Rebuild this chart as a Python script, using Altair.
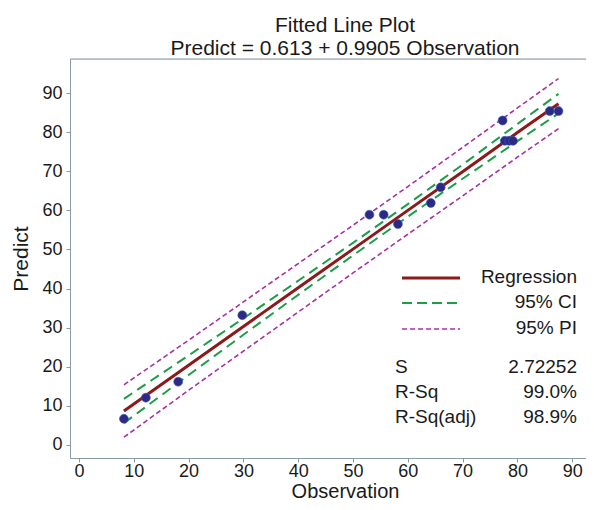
import altair as alt
import pandas as pd

# ---- data ----
obs = [8.2, 12.2, 18.1, 29.8, 53.0, 55.6, 58.2, 64.2, 66.0, 77.3, 77.7, 78.5, 79.2, 85.9, 87.5]
pred = [6.7, 12.1, 16.2, 33.2, 58.9, 58.9, 56.5, 61.9, 65.9, 83.0, 77.8, 77.8, 77.8, 85.4, 85.4]

band_x = [8.2, 20, 30, 40, 50, 60, 70, 80, 87.5]
fit = [8.7, 20.4, 30.3, 40.2, 50.1, 60.0, 69.9, 79.9, 87.3]
ci_up = [11.8, 22.9, 32.4, 42.0, 51.7, 61.6, 71.7, 82.1, 89.8]
ci_lo = [5.6, 17.9, 28.2, 38.4, 48.5, 58.4, 68.1, 77.7, 84.8]
pi_up = [15.4, 26.8, 36.6, 46.4, 56.2, 66.1, 76.1, 86.2, 93.7]
pi_lo = [2.0, 14.0, 24.0, 34.0, 44.0, 53.9, 63.7, 73.6, 80.9]

x_ticks = list(range(0, 100, 10))
y_ticks = list(range(0, 100, 10))

legend_labels = ["Regression", "95% CI", "95% PI"]
stat_names = ["S", "R-Sq", "R-Sq(adj)"]
stat_values = ["2.72252", "99.0%", "98.9%"]

title_lines = ["Fitted Line Plot", "Predict = 0.613 + 0.9905 Observation"]

# ---- styling ----
FONT = "Liberation Sans"
GRAY = "#8a9aa4"
TXT = "#1a1a1a"
RED = "#8b1a1a"
GREEN = "#1c9e48"
MAGENTA = "#a8329f"
DOT = "#2d2a84"

W, H = 516, 399

points = pd.DataFrame({"Observation": obs, "Predict": pred})
one_row = pd.DataFrame({"k": [0]})


def band(vals, name):
    return pd.DataFrame({"Observation": band_x, "Predict": vals, "series": name})


fit_df = band(fit, "fit")
ci_df = pd.concat([band(ci_up, "ci_up"), band(ci_lo, "ci_lo")])
pi_df = pd.concat([band(pi_up, "pi_up"), band(pi_lo, "pi_lo")])

xscale = alt.Scale(domain=[-1.642, 92.52], nice=False, zero=False)
yscale = alt.Scale(domain=[-3.325, 98.72], nice=False, zero=False)

xaxis = alt.Axis(
    values=x_ticks, title="Observation", grid=False, domainColor=GRAY, tickColor=GRAY,
    tickSize=4, labelFontSize=18, labelFont=FONT, labelColor=TXT, labelPadding=0,
    labelFlush=False, labelOverlap=False, titleFont=FONT, titleFontSize=20,
    titleFontWeight="normal", titleColor=TXT, titleX=275, titleY=39,
    titleBaseline="alphabetic", titleAlign="center",
)
yaxis = alt.Axis(
    values=y_ticks, title="Predict", grid=False, domainColor=GRAY, tickColor=GRAY,
    tickSize=4, labelFontSize=18, labelFont=FONT, labelColor=TXT, labelPadding=4,
    labelFlush=False, labelOverlap=False, titleFont=FONT, titleFontSize=21,
    titleFontWeight="normal", titleColor=TXT, titleX=-43, titleY=H / 2,
    titleAngle=-90, titleBaseline="alphabetic", titleAlign="center",
)

X = alt.X("Observation:Q", scale=xscale, axis=xaxis)
Y = alt.Y("Predict:Q", scale=yscale, axis=yaxis)

pi_layer = alt.Chart(pi_df).mark_line(
    color=MAGENTA, strokeWidth=1.6, strokeDash=[5, 3]
).encode(x=X, y=Y, detail="series:N")

ci_layer = alt.Chart(ci_df).mark_line(
    color=GREEN, strokeWidth=2, strokeDash=[10, 6]
).encode(x=X, y=Y, detail="series:N")

fit_layer = alt.Chart(fit_df).mark_line(color=RED, strokeWidth=3).encode(x=X, y=Y)

pt_layer = alt.Chart(points).mark_point(
    filled=True, color=DOT, size=80, opacity=1, stroke="#3d5fc4", strokeWidth=0.6
).encode(x=X, y=Y)

# top frame line
top_rule = alt.Chart(one_row).mark_rule(color=GRAY, strokeWidth=1).encode(
    x=alt.value(0), x2=alt.value(W + 10), y=alt.value(0)
)

# ---- legend / stats box (inside the plot) ----
deco = []
leg_styles = [
    dict(color=RED, strokeWidth=3),
    dict(color=GREEN, strokeWidth=2, strokeDash=[10, 5]),
    dict(color=MAGENTA, strokeWidth=1.6, strokeDash=[5, 3]),
]
leg_y = [219, 244, 270]
for lab, st, yy in zip(legend_labels, leg_styles, leg_y):
    deco.append(
        alt.Chart(one_row).mark_rule(**st).encode(
            x=alt.value(332), x2=alt.value(390), y=alt.value(yy)
        )
    )
    deco.append(
        alt.Chart(one_row).mark_text(
            text=lab, align="right", baseline="middle", font=FONT, fontSize=19, color=TXT
        ).encode(x=alt.value(507), y=alt.value(yy - 1))
    )

stat_y = [308, 333, 358]
for nm, val, yy in zip(stat_names, stat_values, stat_y):
    deco.append(
        alt.Chart(one_row).mark_text(
            text=nm, align="left", baseline="middle", font=FONT, fontSize=19, color=TXT
        ).encode(x=alt.value(325), y=alt.value(yy))
    )
    deco.append(
        alt.Chart(one_row).mark_text(
            text=val, align="right", baseline="middle", font=FONT, fontSize=19, color=TXT
        ).encode(x=alt.value(507), y=alt.value(yy))
    )

chart = alt.layer(pi_layer, ci_layer, fit_layer, pt_layer, top_rule, *deco).properties(
    width=W,
    height=H,
    autosize=alt.AutoSizeParams(type="none"),
    padding={"left": 62, "top": 51, "right": 0, "bottom": 44},
    title=alt.Title(
        text=title_lines, font=FONT, fontSize=21, fontWeight="normal", color=TXT,
        anchor="middle", frame="group", dx=17, offset=-21, lineHeight=23, baseline="bottom",
    ),
).configure_view(stroke=None).configure(background="white")

chart.save("out.html", embed_options={"renderer": "svg", "actions": False})
